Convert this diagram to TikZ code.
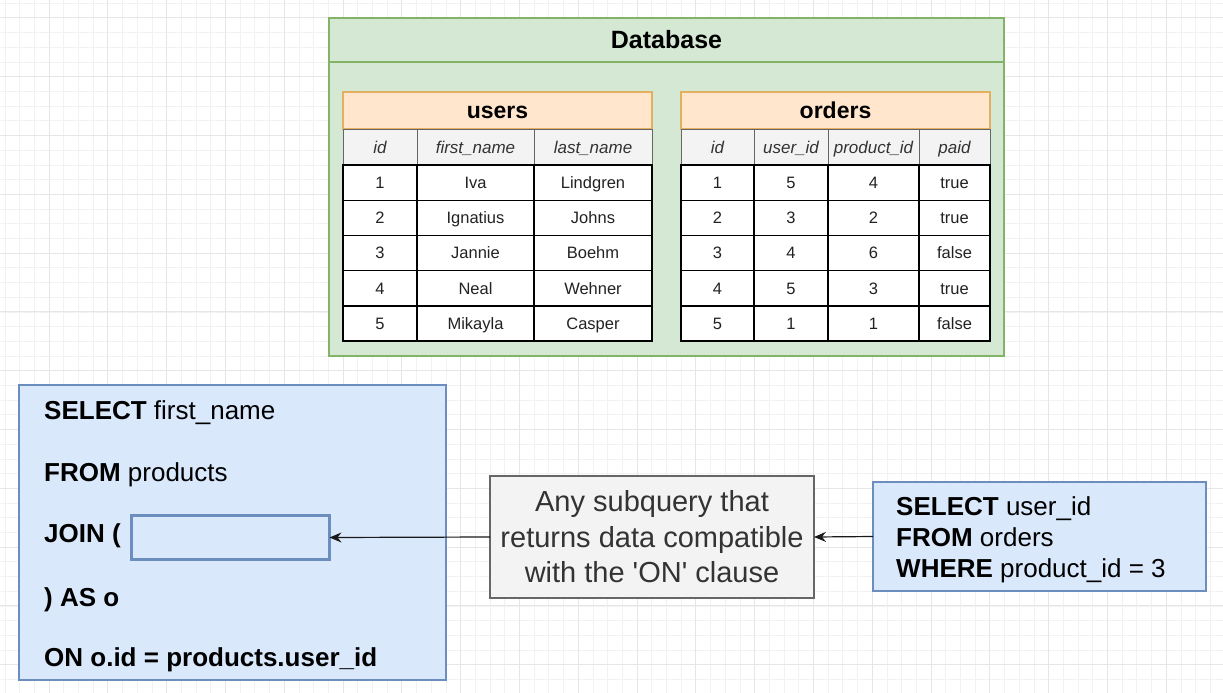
\documentclass[tikz,border=0pt]{standalone}
\usepackage{fontspec}
\setmainfont{Liberation Sans}
\usetikzlibrary{arrows.meta}
\definecolor{gfill}{HTML}{D5E8D4}
\definecolor{gline}{HTML}{82B366}
\definecolor{ofill}{HTML}{FFE6CC}
\definecolor{oline}{HTML}{E3B062}
\definecolor{hfill}{HTML}{F3F3F3}
\definecolor{hline}{HTML}{666666}
\definecolor{bfill}{HTML}{DAE8FC}
\definecolor{bline}{HTML}{6C8EBF}
\definecolor{txt}{HTML}{222222}
\definecolor{gtxt}{HTML}{333333}
\definecolor{gridminor}{HTML}{F2F2F2}
\definecolor{gridmajor}{HTML}{E6E6E6}
\tikzset{
  box/.style={rectangle, inner sep=0pt, outer sep=0pt, anchor=north west, text depth=0pt},
  dbpart/.style={box, draw=gline, fill=gfill, line width=1.3pt},
  tabhead/.style={box, draw=oline, fill=ofill, line width=1.2pt, font=\fontsize{23}{27}\selectfont\bfseries, text=black, text height=16.5pt},
  colhead/.style={box, draw=hline, fill=hfill, line width=1pt, font=\fontsize{17}{20}\selectfont\itshape, text=gtxt, text height=12.2pt},
  datacell/.style={box, draw=black, fill=white, line width=1.4pt, font=\fontsize{16.5}{19}\selectfont, text=txt, text height=11.8pt},
  qbox/.style={box, draw=bline, fill=bfill, line width=1.3pt},
  slotbox/.style={box, draw=bline, fill=bfill, line width=2.8pt},
  notebox/.style={rectangle, inner sep=0pt, outer sep=0pt, anchor=north west, draw=hline, fill=hfill, line width=1.2pt, align=center, text=gtxt, font=\fontsize{29}{35.5}\selectfont},
  qtext/.style={anchor=base west, inner sep=0pt, font=\fontsize{26}{31}\selectfont, text=black},
  arr/.style={-{Stealth[length=12pt,width=10pt,inset=4pt]}, line width=1.2pt, draw=black!90}
}
\begin{document}
\begin{tikzpicture}[x=1pt,y=-1pt]
\useasboundingbox (0,0) rectangle (1223,693);
\fill[white] (0,0) rectangle (1223,693);
% grid
\foreach \i in {0,...,84} {
  \draw[gridminor, line width=0.8pt] ({4.9+\i*14.7},0) -- ({4.9+\i*14.7},693);
}
\foreach \i in {0,...,48} {
  \draw[gridminor, line width=0.8pt] (0,{3.2+\i*14.7}) -- (1223,{3.2+\i*14.7});
}
\foreach \i in {0,...,21} {
  \draw[gridmajor, line width=1pt] ({-9.8+\i*58.8},0) -- ({-9.8+\i*58.8},693);
}
\foreach \i in {0,...,12} {
  \draw[gridmajor, line width=1pt] (0,{17.9+\i*58.8}) -- (1223,{17.9+\i*58.8});
}

% Database container
\node[dbpart, minimum width=675pt, minimum height=294pt] (dbbody) at (329,62) {};
\node[dbpart, minimum width=675pt, minimum height=44pt, font=\fontsize{25}{30}\selectfont\bfseries, text height=17.9pt] (dbtitle) at (329,18) {Database};

% users table
\node[tabhead, minimum width=309pt, minimum height=37pt] (usershead) at (343,92) {users};
\node[colhead, minimum width=74pt, minimum height=36pt] (uh1) at (343,129) {id};
\node[colhead, minimum width=117pt, minimum height=36pt] (uh2) at (417,129) {first\_name};
\node[colhead, minimum width=118pt, minimum height=36pt] (uh3) at (534,129) {last\_name};
\foreach \a/\b/\c [count=\i] in {1/Iva/Lindgren, 2/Ignatius/Johns, 3/Jannie/Boehm, 4/Neal/Wehner, 5/Mikayla/Casper} {
  \node[datacell, minimum width=74pt, minimum height=35.2pt] (u\i a) at (343,{165+(\i-1)*35.2}) {\a};
  \node[datacell, minimum width=117pt, minimum height=35.2pt] (u\i b) at (417,{165+(\i-1)*35.2}) {\b};
  \node[datacell, minimum width=118pt, minimum height=35.2pt] (u\i c) at (534,{165+(\i-1)*35.2}) {\c};
}

% orders table
\node[tabhead, minimum width=309pt, minimum height=37pt] (ordershead) at (681,92) {orders};
\node[colhead, minimum width=73pt, minimum height=36pt] (oh1) at (681,129) {id};
\node[colhead, minimum width=74pt, minimum height=36pt] (oh2) at (754,129) {user\_id};
\node[colhead, minimum width=91pt, minimum height=36pt] (oh3) at (828,129) {product\_id};
\node[colhead, minimum width=71pt, minimum height=36pt] (oh4) at (919,129) {paid};
\foreach \a/\b/\c/\d [count=\i] in {1/5/4/true, 2/3/2/true, 3/4/6/false, 4/5/3/true, 5/1/1/false} {
  \node[datacell, minimum width=73pt, minimum height=35.2pt] (o\i a) at (681,{165+(\i-1)*35.2}) {\a};
  \node[datacell, minimum width=74pt, minimum height=35.2pt] (o\i b) at (754,{165+(\i-1)*35.2}) {\b};
  \node[datacell, minimum width=91pt, minimum height=35.2pt] (o\i c) at (828,{165+(\i-1)*35.2}) {\c};
  \node[datacell, minimum width=71pt, minimum height=35.2pt] (o\i d) at (919,{165+(\i-1)*35.2}) {\d};
}

% outer query
\node[qbox, minimum width=427pt, minimum height=295pt] (query) at (19,385) {};
\node[qtext] (q1) at (44,419.5) {\textbf{SELECT} first\_name};
\node[qtext] (q2) at (44,481.5) {\textbf{FROM} products};
\node[qtext] (q3) at (44,542.5) {\textbf{JOIN (}};
\node[qtext] (q4) at (44,606.5) {\textbf{) AS o}};
\node[qtext] (q5) at (44,666.5) {\textbf{ON o.id = products.user\_id}};
\node[slotbox, minimum width=198pt, minimum height=44pt] (slot) at (131.5,515.5) {};

% note
\node[notebox, minimum width=324pt, minimum height=122pt] (note) at (490,476) {Any subquery that\\returns data compatible\\with the \textquotesingle ON\textquotesingle\ clause};

% subquery
\node[qbox, minimum width=333pt, minimum height=109pt] (sub) at (873,482) {};
\node[anchor=west, inner sep=0pt, align=left, font=\fontsize{26}{31}\selectfont, text=black] (subtext) at (896,540)
  {\textbf{SELECT} user\_id\\\textbf{FROM} orders\\\textbf{WHERE} product\_id = 3};

% arrows
\draw[arr] (note.west) -- (slot.east);
\draw[arr] (sub.west) -- (note.east);
\end{tikzpicture}
\end{document}
